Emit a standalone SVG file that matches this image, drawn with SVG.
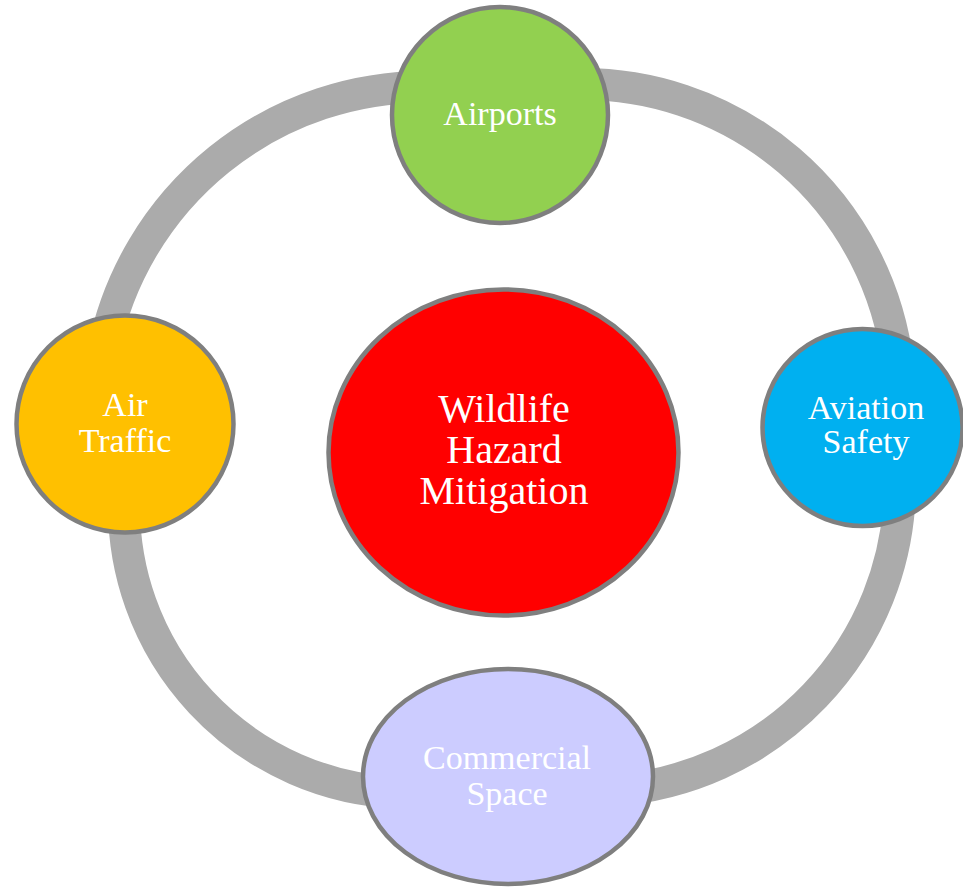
<svg xmlns="http://www.w3.org/2000/svg" width="963" height="888" viewBox="0 0 963 888">
<style>
.ring{fill:none;stroke:#ababab;stroke-width:32;stroke-linecap:butt}
.node{stroke:#7f7f7f;stroke-width:4.5}
.lbl{font-family:"Palatino Linotype","Book Antiqua",Palatino,"Liberation Serif",serif;fill:#ffffff;text-anchor:middle}
.sm{font-size:34px}
.lg{font-size:40px}
</style>
<rect width="963" height="888" fill="#ffffff"/>
<g id="connectors">
<path class="ring" d="M430,87 A328,328 0 0 0 103.5,350"/>
<path class="ring" d="M570,84.2 A318,318 0 0 1 897.8,365"/>
<path class="ring" d="M899.9,490 A308,308 0 0 1 613,790.3"/>
<path class="ring" d="M400,792.8 A286,286 0 0 1 124.2,497"/>
</g>
<g id="node-center">
<ellipse class="node" cx="503.5" cy="452.5" rx="175" ry="163" fill="#ff0000"/>
<text class="lbl lg" x="504" y="422">Wildlife</text>
<text class="lbl lg" x="504" y="463">Hazard</text>
<text class="lbl lg" x="504" y="504">Mitigation</text>
</g>
<g id="node-airports">
<circle class="node" cx="500" cy="115" r="108" fill="#92d050"/>
<text class="lbl sm" x="500" y="125">Airports</text>
</g>
<g id="node-aviation-safety">
<ellipse class="node" cx="862.5" cy="427.5" rx="100" ry="98.5" fill="#00b0f0"/>
<text class="lbl sm" x="866" y="419">Aviation</text>
<text class="lbl sm" x="866" y="453">Safety</text>
</g>
<g id="node-commercial-space">
<ellipse class="node" cx="508" cy="776.5" rx="145" ry="107.5" fill="#ccccff"/>
<text class="lbl sm" x="507" y="769">Commercial</text>
<text class="lbl sm" x="507" y="805">Space</text>
</g>
<g id="node-air-traffic">
<circle class="node" cx="125" cy="424" r="108.5" fill="#ffc000"/>
<text class="lbl sm" x="125" y="416">Air</text>
<text class="lbl sm" x="125" y="452">Traffic</text>
</g>
</svg>
